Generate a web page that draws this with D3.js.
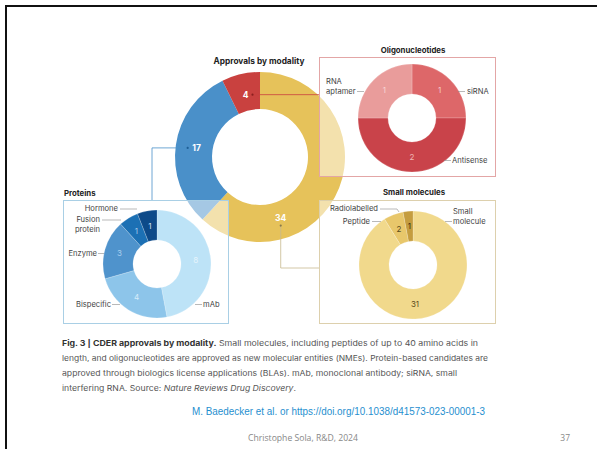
<!DOCTYPE html>
<html><head><meta charset="utf-8">
<script src="https://cdn.jsdelivr.net/npm/d3@7"></script>
<style>
html,body{margin:0;padding:0;background:#fff;}
svg{display:block;}
</style></head>
<body>
<svg id="c" width="597" height="449"></svg>
<script>
// ---- data ----
const mainCats = ["Small molecules", "Proteins", "Oligonucleotides"];
const mainVals = [34, 17, 4];
const mainColors = ["#e6c25a", "#4a90c9", "#c9413f"];

const oligoCats = ["siRNA", "Antisense", "RNA aptamer"];
const oligoVals = [1, 2, 1];
const oligoColors = ["#dd6769", "#c9434a", "#e99c9b"];

const protCats = ["mAb", "Bispecific", "Enzyme", "Fusion protein", "Hormone"];
const protVals = [8, 4, 3, 1, 1];
const protColors = ["#bde3f7", "#8dc5ea", "#4f93cc", "#1c70b4", "#0d4a89"];

const smallCats = ["Small molecule", "Peptide", "Radiolabelled"];
const smallVals = [31, 2, 1];
const smallColors = ["#f1d98c", "#e8c76b", "#c59d3f"];

const svg = d3.select("#c");
const FONT = "Inter, 'Noto Sans', sans-serif";

// slide border
svg.append("path").attr("d", "M6,449 V6 H597").attr("fill", "none")
  .attr("stroke", "#111").attr("stroke-width", 2);

// ---- main donut ----
const mc = {x: 260, y: 157};
const pie = d3.pie().sort(null).value(d => d.v);
const mainData = pie(mainVals.map((v, i) => ({v, c: mainColors[i], name: mainCats[i]})));
const mainArc = d3.arc().innerRadius(48).outerRadius(85);
const gM = svg.append("g").attr("transform", `translate(${mc.x},${mc.y})`);
gM.selectAll("path").data(mainData).join("path")
  .attr("d", mainArc).attr("fill", d => d.data.c);

svg.append("text").attr("x", 259).attr("y", 64).attr("text-anchor", "middle")
  .attr("font-family", FONT).attr("font-size", 8.3).attr("font-weight", 700)
  .attr("fill", "#222").text("Approvals by modality");

// label radius 64; angle shift for the big slice
const labelR = 64;
const angleShift = [0.87, 0, 0];
const mainLabelPos = mainData.map((d, i) => {
  const a = (d.startAngle + d.endAngle) / 2 + angleShift[i];
  return [mc.x + labelR * Math.sin(a), mc.y - labelR * Math.cos(a)];
});

// leader lines from main donut
const pR = mainLabelPos[2], pB = mainLabelPos[1], pY = mainLabelPos[0];
svg.append("path").attr("d", `M${pR[0] + 7},${pR[1]} H320`).attr("fill", "none")
  .attr("stroke", "#c9413f").attr("stroke-width", 0.8);
svg.append("circle").attr("cx", pR[0] + 7).attr("cy", pR[1]).attr("r", 1.1).attr("fill", "#8a1f1f");
svg.append("path").attr("d", `M${pB[0] - 9},${pB[1]} H152 V201`).attr("fill", "none")
  .attr("stroke", "#4a90c9").attr("stroke-width", 0.8);
svg.append("circle").attr("cx", pB[0] - 9).attr("cy", pB[1]).attr("r", 1.1).attr("fill", "#1e5e96");
svg.append("path").attr("d", `M${pY[0]},${pY[1] + 8} V268 H320`).attr("fill", "none")
  .attr("stroke", "#c8b98f").attr("stroke-width", 0.8);
svg.append("circle").attr("cx", pY[0]).attr("cy", pY[1] + 8).attr("r", 1.1).attr("fill", "#8a7a4a");

gM.selectAll("text").data(mainData).join("text")
  .attr("x", (d, i) => mainLabelPos[i][0] - mc.x)
  .attr("y", (d, i) => mainLabelPos[i][1] - mc.y + 3)
  .attr("text-anchor", "middle").attr("font-family", FONT).attr("font-size", 8.5)
  .attr("font-weight", 700).attr("fill", "#fff").text(d => d.data.v);

// ---- sub panels ----
function panel(opts) {
  const {box, title, titleAnchor, titleX, titleY, stroke, center, vals, colors, numColor, labels, numPos} = opts;
  svg.append("rect").attr("x", box[0]).attr("y", box[1]).attr("width", box[2]).attr("height", box[3])
    .attr("fill", "rgba(255,255,255,0.5)").attr("stroke", stroke).attr("stroke-width", 1);
  svg.append("text").attr("x", titleX).attr("y", titleY).attr("text-anchor", titleAnchor)
    .attr("font-family", FONT).attr("font-size", 7.8).attr("font-weight", 700)
    .attr("fill", "#222").text(title);
  const g = svg.append("g").attr("transform", `translate(${center[0]},${center[1]})`);
  const data = d3.pie().sort(null)(vals);
  const arc = d3.arc().innerRadius(24).outerRadius(54);
  g.selectAll("path").data(data).join("path").attr("d", arc)
    .attr("fill", (d, i) => colors[i]).attr("stroke", "rgba(255,255,255,0.5)").attr("stroke-width", 0.4);
  g.selectAll("text").data(data).join("text")
    .attr("x", (d, i) => numPos && numPos[i] ? numPos[i][0] : arc.centroid(d)[0])
    .attr("y", (d, i) => (numPos && numPos[i] ? numPos[i][1] : arc.centroid(d)[1]) + 3)
    .attr("text-anchor", "middle").attr("font-family", FONT).attr("font-size", 8)
    .attr("fill", (d, i) => numColor[i]).text(d => d.data);
  labels.forEach(l => {
    svg.append("path").attr("d", l.line).attr("fill", "none")
      .attr("stroke", "#8a8a8a").attr("stroke-width", 0.6);
    const t = svg.append("text").attr("x", l.x).attr("y", l.y).attr("text-anchor", l.anchor)
      .attr("font-family", FONT).attr("font-size", 7.6).attr("fill", "#444");
    l.text.forEach((s, k) => t.append("tspan").attr("x", l.x).attr("dy", k ? 9.5 : 0).text(s));
  });
}

panel({
  box: [319.5, 57.5, 176, 119], title: "Oligonucleotides", titleAnchor: "middle", titleX: 413, titleY: 53,
  stroke: "#e3a6a6", center: [412, 118], vals: oligoVals, colors: oligoColors,
  numColor: ["#f5c9c9", "#f0b5b5", "#f7d6d6"],
  labels: [
    {text: ["RNA", "aptamer"], x: 326, y: 84, anchor: "start", line: "M357,91.5 H364"},
    {text: [oligoCats[0]], x: 467, y: 94, anchor: "start", line: "M458,91.5 H465"},
    {text: [oligoCats[1]], x: 452, y: 163, anchor: "start", line: "M444,160.5 H451"}
  ]
});

panel({
  box: [63.5, 200.5, 165, 123], title: "Proteins", titleAnchor: "start", titleX: 64, titleY: 196,
  stroke: "#a9cfe5", center: [157, 264], vals: protVals, colors: protColors,
  numColor: ["#e6f4fc", "#d6ecfa", "#a9cfee", "#a5c8e8", "#cfe0f2"],
  labels: [
    {text: [protCats[4]], x: 118, y: 211, anchor: "end", line: "M120,209 H137"},
    {text: ["Fusion", "protein"], x: 100, y: 222, anchor: "end", line: "M102,220 H121"},
    {text: [protCats[2]], x: 97, y: 256, anchor: "end", line: "M98,253.5 H104"},
    {text: [protCats[1]], x: 111, y: 307, anchor: "end", line: "M112,304.5 H120"},
    {text: [protCats[0]], x: 203, y: 307, anchor: "start", line: "M195,304.5 H202"}
  ]
});

panel({
  box: [319.5, 200.5, 176, 123], title: "Small molecules", titleAnchor: "middle", titleX: 414, titleY: 195,
  stroke: "#ddd0ad", center: [413, 265], vals: smallVals, colors: smallColors,
  numColor: ["#5a4a1a", "#5a4a1a", "#3a2e10"],
  numPos: [[2, 39], null, null],
  labels: [
    {text: [smallCats[2]], x: 378, y: 211, anchor: "end", line: "M380,209 H397 L399,212"},
    {text: [smallCats[1]], x: 370, y: 224, anchor: "end", line: "M372,221.5 H381"},
    {text: ["Small", "molecule"], x: 453, y: 214, anchor: "start", line: "M445,221.5 H452"}
  ]
});

// ---- caption ----
const capLines = [
  [["Fig. 3 | CDER approvals by modality.", "b"], [" Small molecules, including peptides of up to 40 amino acids in", "n"]],
  [["length, and oligonucleotides are approved as new molecular entities (NMEs). Protein-based candidates are", "n"]],
  [["approved through biologics license applications (BLAs). mAb, monoclonal antibody; siRNA, small", "n"]],
  [["interfering RNA. Source: ", "n"], ["Nature Reviews Drug Discovery", "i"], [".", "n"]]
];
const capWidths = [416, 426, 395, 234];
capLines.forEach((line, i) => {
  const t = svg.append("text").attr("x", 62).attr("y", 346 + i * 15)
    .attr("font-family", FONT).attr("font-size", 7.6).attr("fill", "#555")
    .attr("textLength", capWidths[i]).attr("lengthAdjust", "spacingAndGlyphs");
  line.forEach(([s, st]) => {
    const ts = t.append("tspan").text(s);
    if (st === "b") ts.attr("font-weight", 700).attr("fill", "#333");
    if (st === "i") ts.attr("font-style", "italic");
  });
});

// ---- footer ----
svg.append("text").attr("x", 192).attr("y", 415)
  .attr("font-family", "'Liberation Sans', Arial, sans-serif").attr("font-size", 10.5)
  .attr("fill", "#1f8fcf").attr("textLength", 293).attr("lengthAdjust", "spacingAndGlyphs")
  .text("M. Baedecker et al. or https://doi.org/10.1038/d41573-023-00001-3");
svg.append("text").attr("x", 248).attr("y", 441)
  .attr("font-family", "'Open Sans', sans-serif").attr("font-size", 8.5)
  .attr("fill", "#888").attr("textLength", 110).attr("lengthAdjust", "spacingAndGlyphs")
  .text("Christophe Sola, R&D, 2024");
svg.append("text").attr("x", 570).attr("y", 441).attr("text-anchor", "end")
  .attr("font-family", "'Open Sans', sans-serif").attr("font-size", 8.5)
  .attr("fill", "#888").text("37");
</script>
</body></html>
